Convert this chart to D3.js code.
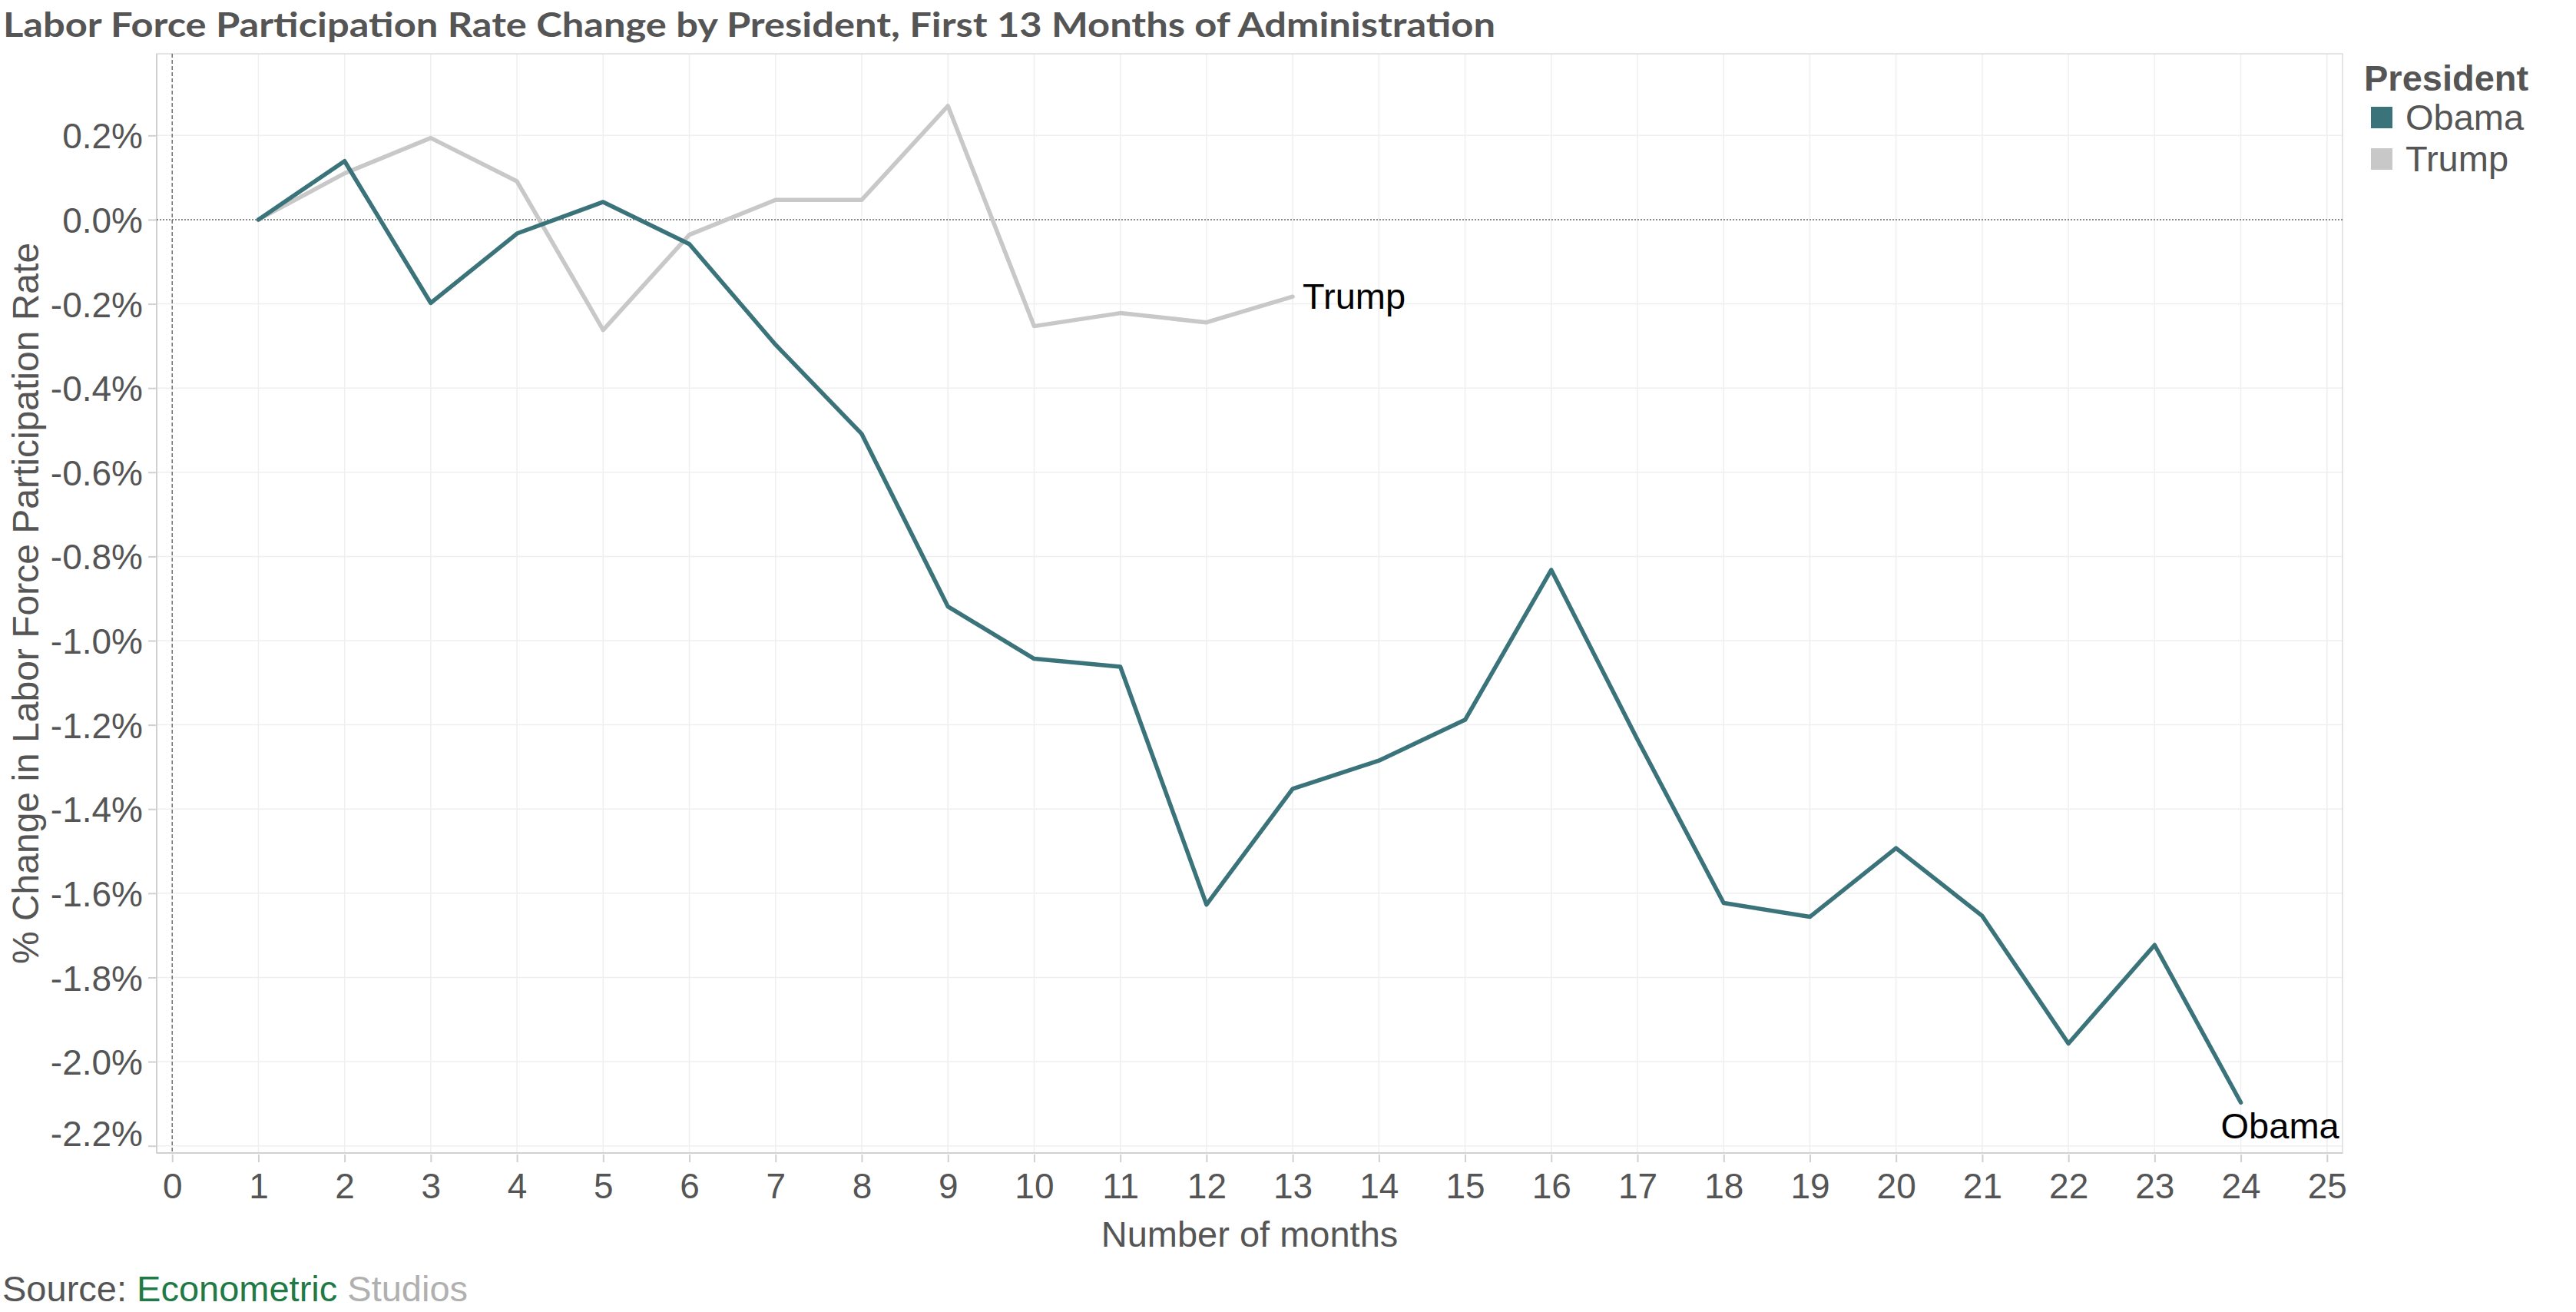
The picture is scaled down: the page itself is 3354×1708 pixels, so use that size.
<!DOCTYPE html>
<html>
<head>
<meta charset="utf-8">
<script src="https://cdn.jsdelivr.net/npm/d3@7"></script>
<style>
  body { margin: 0; background: #fff; }
  text { font-family: "Liberation Sans", Arial, sans-serif; }
</style>
</head>
<body>
<script>
/* Data */
const obamaMonths = d3.range(1, 25);
const obamaValues = [0, 0.139, -0.198, -0.033, 0.042, -0.058, -0.297, -0.509, -0.919, -1.043, -1.062, -1.627,
  -1.352, -1.285, -1.188, -0.832, -1.235, -1.623, -1.656, -1.493, -1.654, -1.957, -1.723, -2.097];
const trumpMonths = d3.range(1, 14);
const trumpValues = [0, 0.11, 0.194, 0.091, -0.262, -0.036, 0.047, 0.047, 0.27, -0.253, -0.222, -0.244, -0.183];
const presidents = ["Obama", "Trump"];
const xTicks = d3.range(0, 26);
const yTicks = [0.2, 0, -0.2, -0.4, -0.6, -0.8, -1.0, -1.2, -1.4, -1.6, -1.8, -2.0, -2.2];

/* Constants */
const W = 3354, H = 1708;
const PLOT = { left: 204, right: 3050, top: 70, bottom: 1501 };
const COLORS = { Obama: "#3b737a", Trump: "#c8c8c8" };
const TEXT = "#555555";

const svg = d3.select("body").append("svg")
  .attr("width", W)
  .attr("height", H);

/* Scales */
const x = d3.scaleLinear().domain([-0.18, 25.18]).range([PLOT.left, PLOT.right]);
const y = d3.scaleLinear().domain([-2.217, 0.394]).range([PLOT.bottom, PLOT.top]);

/* Title */
svg.append("text")
  .attr("x", 4)
  .attr("y", 48)
  .style("font-family", "Lato, 'Open Sans', sans-serif")
  .style("font-weight", "bold")
  .style("font-size", "44px")
  .style("fill", TEXT)
  .attr("textLength", 1943)
  .attr("lengthAdjust", "spacingAndGlyphs")
  .text("Labor Force Participation Rate Change by President, First 13 Months of Administration");

/* Gridlines */
svg.append("g")
  .selectAll("line")
  .data(xTicks.filter(d => d !== 0))
  .enter().append("line")
  .attr("x1", d => x(d)).attr("x2", d => x(d))
  .attr("y1", PLOT.top).attr("y2", PLOT.bottom)
  .style("stroke", "#efefef").style("stroke-width", 1.5);

svg.append("g")
  .selectAll("line")
  .data(yTicks.filter(d => d !== 0))
  .enter().append("line")
  .attr("x1", PLOT.left).attr("x2", PLOT.right)
  .attr("y1", d => y(d)).attr("y2", d => y(d))
  .style("stroke", "#efefef").style("stroke-width", 1.5);

/* Border */
svg.append("rect")
  .attr("x", PLOT.left).attr("y", PLOT.top)
  .attr("width", PLOT.right - PLOT.left).attr("height", PLOT.bottom - PLOT.top)
  .style("fill", "none").style("stroke", "#dcdcdc").style("stroke-width", 1.5);

svg.append("line")
  .attr("x1", PLOT.left).attr("x2", PLOT.left)
  .attr("y1", PLOT.top).attr("y2", PLOT.bottom)
  .style("stroke", "#d0d0d0").style("stroke-width", 2);

svg.append("line")
  .attr("x1", PLOT.left).attr("x2", PLOT.right)
  .attr("y1", PLOT.bottom).attr("y2", PLOT.bottom)
  .style("stroke", "#d0d0d0").style("stroke-width", 2);

/* Reference lines at zero */
svg.append("line")
  .attr("x1", x(0)).attr("x2", x(0))
  .attr("y1", PLOT.top).attr("y2", PLOT.bottom)
  .style("stroke", "#666").style("stroke-width", 1.4)
  .style("stroke-dasharray", "5,3");

svg.append("line")
  .attr("x1", PLOT.left).attr("x2", PLOT.right)
  .attr("y1", y(0)).attr("y2", y(0))
  .style("stroke", "#666").style("stroke-width", 1.6)
  .style("stroke-dasharray", "2,2");

/* Axes */
const xAxis = d3.axisBottom(x).tickValues(xTicks).tickSize(10).tickPadding(14).tickFormat(d3.format("d"));
const yAxis = d3.axisLeft(y).tickValues(yTicks).tickSize(10).tickPadding(7)
  .tickFormat(d => d3.format(".1f")(d).replace("\u2212", "-") + "%");

const gx = svg.append("g")
  .attr("transform", "translate(0," + (PLOT.bottom + 2) + ")")
  .call(xAxis);

const gy = svg.append("g")
  .attr("transform", "translate(" + (PLOT.left - 1) + ",0)")
  .call(yAxis);

[gx, gy].forEach(g => {
  g.select(".domain").remove();
  g.selectAll(".tick line").style("stroke", "#d0d0d0").style("stroke-width", 2);
  g.selectAll(".tick text")
    .style("font-size", "46px")
    .style("fill", TEXT)
    .style("font-family", "'Liberation Sans', Arial, sans-serif");
});
gy.selectAll(".tick text").attr("dy", "0.36em");
// keep the lowest label inside the pane, as the original does
gy.selectAll(".tick text").filter(d => d === d3.min(yTicks)).attr("dy", "0.0em");

/* Axis titles */
svg.append("text")
  .attr("x", (PLOT.left + PLOT.right) / 2)
  .attr("y", 1623)
  .attr("text-anchor", "middle")
  .style("font-size", "47px")
  .style("fill", TEXT)
  .text("Number of months");

svg.append("text")
  .attr("transform", "translate(50," + ((PLOT.top + PLOT.bottom) / 2) + ") rotate(-90)")
  .attr("text-anchor", "middle")
  .style("font-size", "48px")
  .style("fill", TEXT)
  .text("% Change in Labor Force Participation Rate");

/* Lines */
const line = d3.line()
  .x(d => x(d[0]))
  .y(d => y(d[1]));

const trumpData = d3.zip(trumpMonths, trumpValues);
const obamaData = d3.zip(obamaMonths, obamaValues);

svg.append("path")
  .datum(trumpData)
  .attr("d", line)
  .style("fill", "none")
  .style("stroke", COLORS.Trump)
  .style("stroke-width", 5.5)
  .style("stroke-linejoin", "round")
  .style("stroke-linecap", "round");

svg.append("path")
  .datum(obamaData)
  .attr("d", line)
  .style("fill", "none")
  .style("stroke", COLORS.Obama)
  .style("stroke-width", 5.5)
  .style("stroke-linejoin", "round")
  .style("stroke-linecap", "round");

/* End labels */
const lastTrump = trumpData[trumpData.length - 1];
const lastObama = obamaData[obamaData.length - 1];

svg.append("text")
  .attr("x", x(lastTrump[0]) + 13)
  .attr("y", y(lastTrump[1]) + 16)
  .style("font-size", "47px")
  .style("fill", "#000")
  .text("Trump");

svg.append("text")
  .attr("x", x(lastObama[0]) - 26)
  .attr("y", y(lastObama[1]) + 47)
  .style("font-size", "47px")
  .style("fill", "#000")
  .text("Obama");

/* Legend */
svg.append("text")
  .attr("x", 3078)
  .attr("y", 118)
  .style("font-size", "47px")
  .style("font-weight", "bold")
  .style("fill", TEXT)
  .text("President");

const legend = svg.selectAll(".legend")
  .data(presidents)
  .enter().append("g")
  .attr("class", "legend")
  .attr("transform", (d, i) => "translate(3087," + (139 + i * 54) + ")");

legend.append("rect")
  .attr("width", 28).attr("height", 28)
  .style("fill", d => COLORS[d]);

legend.append("text")
  .attr("x", 45)
  .attr("y", 30)
  .style("font-size", "47px")
  .style("fill", TEXT)
  .text(d => d);

/* Source */
const source = svg.append("text")
  .attr("x", 3)
  .attr("y", 1694)
  .style("font-size", "47px");

source.append("tspan").style("fill", TEXT).text("Source: ");
source.append("tspan").style("fill", "#217a45").text("Econometric");
source.append("tspan").style("fill", "#b0b0b0").text(" Studios");
</script>
</body>
</html>
